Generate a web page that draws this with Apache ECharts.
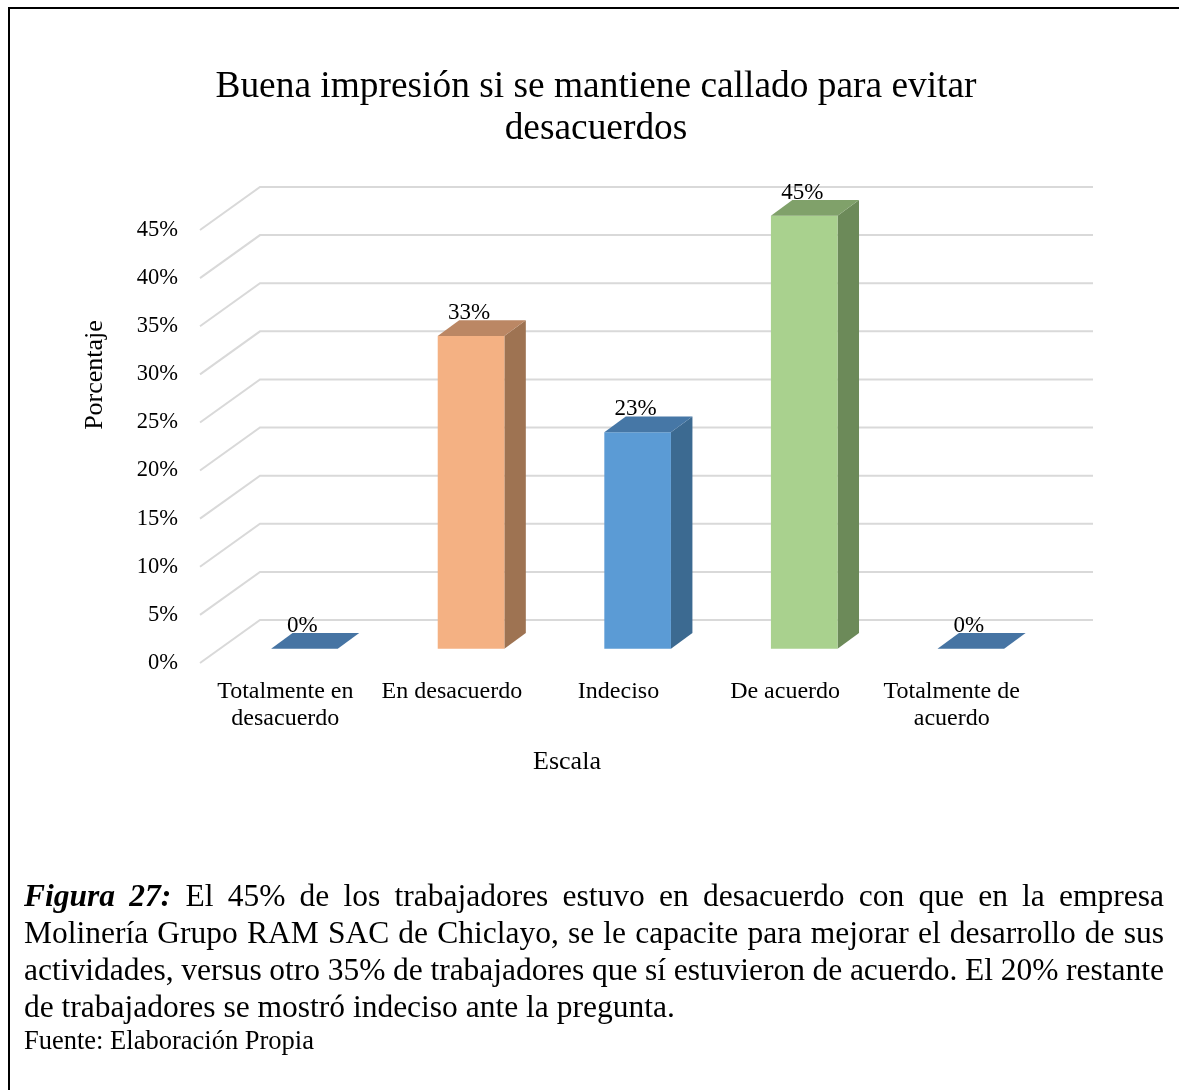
<!DOCTYPE html>
<html>
<head>
<meta charset="utf-8">
<script src="https://cdn.jsdelivr.net/npm/echarts@6/dist/echarts.min.js"></script>
<style>
  html, body { margin: 0; padding: 0; background: #fff; }
  #wrap { position: relative; width: 1179px; height: 1090px; overflow: hidden; }
  #chart { position: absolute; left: 0; top: 0; width: 1179px; height: 1090px; }
  .cap { position: absolute; left: 24px; width: 1140px; font-family: 'Liberation Serif', 'Times New Roman', serif; color: #000; }
  .cap div { font-size: 31.5px; line-height: 37px; height: 37px; text-align: justify; text-align-last: justify; white-space: nowrap; }
  .cap div.tight { word-spacing: -1px; }
  .cap div.last { text-align-last: left; }
  .fuente { position: absolute; left: 24px; top: 1024px; font-family: 'Liberation Serif', 'Times New Roman', serif; font-size: 26.5px; line-height: 32px; }
</style>
</head>
<body>
<div id="wrap">
  <div id="chart"></div>
  <div class="cap" style="top:877px">
    <div><b><i>Figura 27:</i></b> El 45% de los trabajadores estuvo en desacuerdo con que en la empresa</div>
    <div>Molinería Grupo RAM SAC de Chiclayo, se le capacite para mejorar el desarrollo de sus</div>
    <div class="tight">actividades, versus otro 35% de trabajadores que sí estuvieron de acuerdo. El 20% restante</div>
    <div class="last">de trabajadores se mostró indeciso ante la pregunta.</div>
  </div>
  <div class="fuente">Fuente: Elaboración Propia</div>
</div>
<script>
const categories = ['Totalmente en\ndesacuerdo', 'En desacuerdo', 'Indeciso', 'De acuerdo', 'Totalmente de\nacuerdo'];
const values = [0, 32.5, 22.5, 45, 0];
const yTicks = [0, 5, 10, 15, 20, 25, 30, 35, 40, 45];
// front, side, top colours per bar
const frontColors = ['#4674A3', '#F4B183', '#5B9BD5', '#A9D18E', '#4674A3'];
const sideColors = ['#3B6689', '#9E7352', '#3C6A91', '#6C8A59', '#3B6689'];
const topColors = ['#4674A3', '#BB8764', '#4677A6', '#80A16A', '#4674A3'];

const serif = "'Liberation Serif', 'Times New Roman', serif";
// perspective depth of the floor
const DX = 58, DY = -43;
const F1 = 0.33, F2 = 0.70;

const chart = echarts.init(document.getElementById('chart'));

const option = {
  backgroundColor: '#fff',
  animation: false,
  title: {
    text: 'Buena impresión si se mantiene callado para evitar\ndesacuerdos',
    left: 591,
    top: 61,
    textAlign: 'center',
    textStyle: { fontFamily: serif, fontWeight: 'normal', fontSize: 37.4, lineHeight: 42, color: '#000' }
  },
  grid: { left: 202, right: 144, top: 230, bottom: 427 },
  xAxis: {
    type: 'category',
    data: categories,
    axisLine: { show: false },
    axisTick: { show: false },
    axisLabel: { fontFamily: serif, fontSize: 24, lineHeight: 27, color: '#000', margin: 15, interval: 0 }
  },
  yAxis: {
    type: 'value',
    min: 0,
    max: 45,
    interval: 5,
    axisLine: { show: false },
    axisTick: { show: false },
    splitLine: { show: false },
    axisLabel: { fontFamily: serif, fontSize: 22.5, color: '#000', margin: 24, formatter: '{value}%' }
  },
  graphic: [
    { type: 'rect', shape: { x: 8, y: 7, width: 1180, height: 2 }, style: { fill: '#000' }, z: 100 },
    { type: 'rect', shape: { x: 8, y: 7, width: 2, height: 1090 }, style: { fill: '#000' }, z: 100 },
    {
      type: 'text', x: 95, y: 375, rotation: Math.PI / 2,
      style: { text: 'Porcentaje', fontFamily: serif, fontSize: 26, fill: '#000', align: 'center', verticalAlign: 'middle' }
    },
    {
      type: 'text', x: 567, y: 762,
      style: { text: 'Escala', fontFamily: serif, fontSize: 26, fill: '#000', align: 'center', verticalAlign: 'middle' }
    }
  ],
  series: [
    {
      // perspective grid lines: side wall diagonal + back wall line
      type: 'custom',
      silent: true,
      z: 1,
      data: yTicks.map(v => [0, v]),
      renderItem: function (params, api) {
        const cs = params.coordSys;
        const y = api.coord([0, api.value(1)])[1];
        const x0 = cs.x - 2;
        return {
          type: 'polyline',
          shape: { points: [[x0, y], [cs.x + DX, y + DY], [cs.x + cs.width + DX, y + DY]] },
          style: { stroke: '#D9D9D9', lineWidth: 2, fill: null }
        };
      }
    },
    {
      type: 'custom',
      z: 5,
      data: values.map((v, i) => [i, v]),
      renderItem: function (params, api) {
        const i = api.value(0);
        const v = api.value(1);
        const base = api.coord([i, 0]);
        const top = api.coord([i, v]);
        const w = api.size([1, 0])[0] * 0.4;
        const fx = base[0] + F1 * DX, fy = F1 * DY;
        const bx = base[0] + F2 * DX, by = F2 * DY;
        const L1 = fx - w / 2, R1 = fx + w / 2;
        const L2 = bx - w / 2, R2 = bx + w / 2;
        const yb1 = base[1] + fy, yt1 = top[1] + fy;
        const yb2 = base[1] + by, yt2 = top[1] + by;
        const children = [];
        if (v > 0) {
          children.push({
            type: 'polygon',
            shape: { points: [[R1, yb1], [R1, yt1], [R2, yt2], [R2, yb2]] },
            style: { fill: sideColors[i] }
          });
          children.push({
            type: 'rect',
            shape: { x: L1, y: yt1, width: w, height: yb1 - yt1 },
            style: { fill: frontColors[i] }
          });
        }
        children.push({
          type: 'polygon',
          shape: { points: [[L1, yt1], [R1, yt1], [R2, yt2], [L2, yt2]] },
          style: { fill: topColors[i] }
        });
        children.push({
          type: 'text',
          x: fx - 2,
          y: yt2 - 7,
          style: {
            text: Math.round(v) + '%',
            fontFamily: serif,
            fontSize: 23,
            fill: '#000',
            align: 'center',
            verticalAlign: 'middle'
          },
          z2: 10
        });
        return { type: 'group', children: children };
      }
    }
  ]
};

chart.setOption(option);
</script>
</body>
</html>
